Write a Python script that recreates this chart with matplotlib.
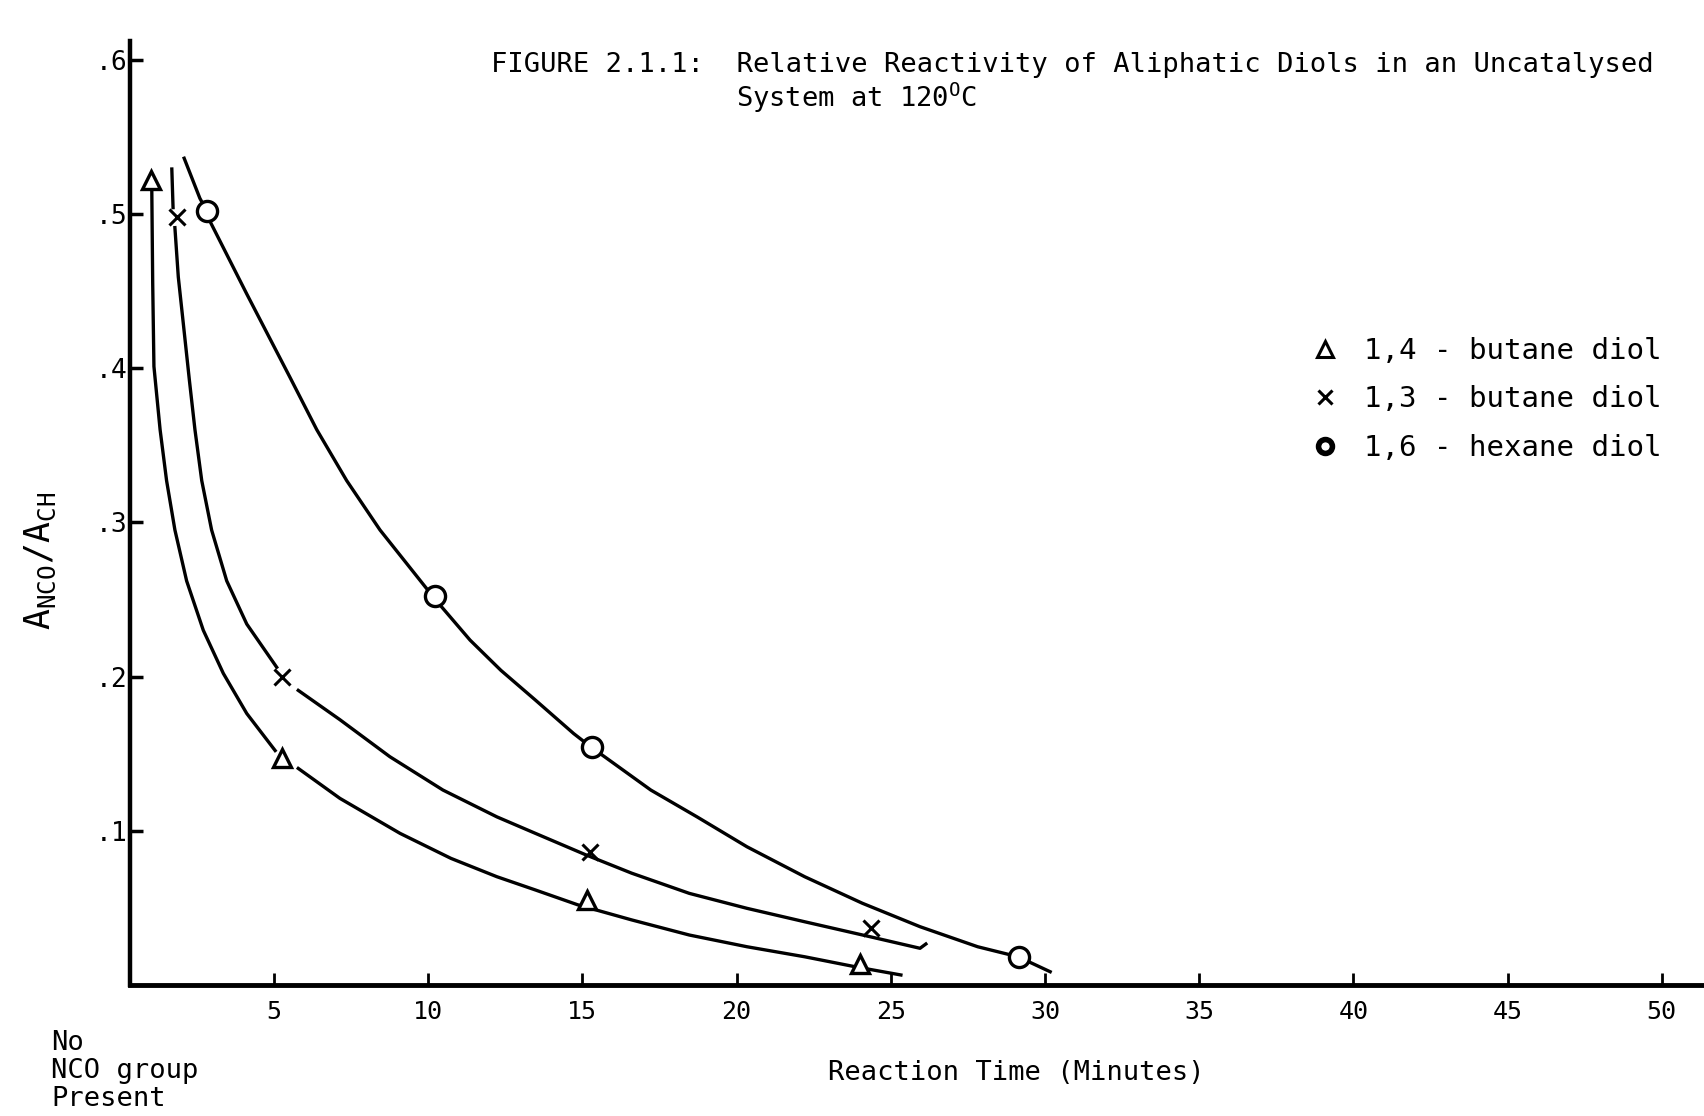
import numpy as np
import matplotlib
matplotlib.use("Agg")
import matplotlib.pyplot as plt
from matplotlib.lines import Line2D

plt.rcParams['font.family'] = ['DejaVu Sans Mono', 'DejaVu Sans']
plt.rcParams['mathtext.fontset'] = 'custom'
plt.rcParams['mathtext.rm'] = 'DejaVu Sans Mono'

# Messpunkte
t_14 = [1.0, 5.25, 15.15, 24.0]
r_14 = [0.522, 0.147, 0.055, 0.0134]
t_13 = [1.85, 5.25, 15.25, 24.35]
r_13 = [0.498, 0.200, 0.086, 0.037]
t_16 = [2.82, 10.22, 15.3, 29.17]
r_16 = [0.502, 0.252, 0.154, 0.0183]

# Handgezeichnete Kurven (nan = Lücke)
c14_x = [1.04, 1.07, 1.11, 1.31, 1.52, 1.79, 2.17, 2.71, 3.36, 4.12, 5.04, np.nan,
         5.79, 7.14, 9.09, 10.74, 12.23, 13.48, 14.85, 16.6, 18.47, 20.34, 22.21, 23.83, 25.33]
c14_y = [0.517, 0.455, 0.401, 0.360, 0.327, 0.295, 0.262, 0.230, 0.202, 0.176, 0.152, np.nan,
         0.1404, 0.121, 0.0983, 0.0821, 0.0702, 0.0616, 0.052, 0.0422, 0.0324, 0.0248, 0.0183, 0.0119, 0.0065]
c13_x = [1.69, 1.73, np.nan, 1.79, 1.90, 2.04, 2.26, 2.44, 2.66, 2.98, 3.47, 4.12, 5.09, np.nan,
         5.79, 7.14, 8.76, 10.48, 12.23, 13.48, 15.1, 16.6, 18.47, 20.34, 22.21, 24.33, 25.95, 26.14]
c13_y = [0.529, 0.504, np.nan, 0.491, 0.459, 0.433, 0.392, 0.360, 0.327, 0.295, 0.262, 0.234, 0.206, np.nan,
         0.191, 0.172, 0.148, 0.1264, 0.109, 0.0983, 0.0845, 0.0725, 0.0594, 0.0497, 0.041, 0.0313, 0.0238, 0.0266]
c16_x = [2.09, 2.6, 2.82, 2.93, 4.12, 5.52, 6.39, 7.36, 8.44, 10.23, 11.36, 12.36,
         13.48, 14.72, 15.3, 15.72, 17.22, 18.72, 20.34, 22.21, 24.08, 25.95, 27.82, 29.13, 30.17]
c16_y = [0.536, 0.51, 0.502, 0.495, 0.448, 0.394, 0.360, 0.327, 0.295, 0.25, 0.2236, 0.204,
         0.1847, 0.163, 0.154, 0.148, 0.1264, 0.109, 0.0896, 0.0702, 0.053, 0.0378, 0.0248, 0.0183, 0.0086]

x_ticks = [5, 10, 15, 20, 25, 30, 35, 40, 45, 50]
y_ticks = [0.1, 0.2, 0.3, 0.4, 0.5, 0.6]
y_tick_labels = ['.1', '.2', '.3', '.4', '.5', '.6']
labels = ['1,4 - butane diol', '1,3 - butane diol', '1,6 - hexane diol']

fig = plt.figure(figsize=(17.04, 11.16), dpi=100)
ax = fig.add_axes([130 / 1704, 1 - 985 / 1116, 1 - 130 / 1704, (985 - 41) / 1116])

lw = 2.4
ax.plot(c14_x, c14_y, color='black', lw=lw, zorder=2)
ax.plot(c13_x, c13_y, color='black', lw=lw, zorder=2)
ax.plot(c16_x, c16_y, color='black', lw=lw, zorder=2)

ax.plot(t_14, r_14, ls='none', marker='^', ms=13, mfc='white', mec='black', mew=2.4, zorder=3)
ax.plot(t_13, r_13, ls='none', marker='x', ms=11, mec='black', mew=2.2, zorder=3)
ax.plot(t_16, r_16, ls='none', marker='o', ms=14.5, mfc='white', mec='black', mew=2.4, zorder=3)

ax.set_xlim(0.334, 51.37)
ax.set_ylim(0, 0.612)
for s in ['top', 'right']:
    ax.spines[s].set_visible(False)
ax.spines['left'].set_linewidth(3.2)
ax.spines['bottom'].set_linewidth(3.5)

ax.set_xticks(x_ticks)
ax.set_xticklabels([str(v) for v in x_ticks])
ax.set_yticks(y_ticks)
ax.set_yticklabels(y_tick_labels)
ax.tick_params(axis='x', direction='in', length=9, width=2, labelsize=18, pad=11)
ax.tick_params(axis='y', direction='in', length=9, width=2.5, labelsize=19, pad=2)

ax.set_xlabel('Reaction Time (Minutes)', fontsize=19.5)
ax.xaxis.set_label_coords(0.563, -0.079)
ax.set_ylabel(r'$\mathregular{A_{NCO}/A_{CH}}$', fontsize=25)
ax.yaxis.set_label_coords(-0.046, 0.449)

fig.text(491 / 1704, 1 - 65 / 1116, 'FIGURE 2.1.1:  Relative Reactivity of Aliphatic Diols in an Uncatalysed',
         fontsize=19.5, va='center', ha='left')
fig.text(736 / 1704, 1 - 98 / 1116, r'System at 120$^{\mathregular{O}}$C',
         fontsize=19.5, va='center', ha='left')
fig.text(51 / 1704, 1 - 1071 / 1116, 'No\nNCO group\nPresent', fontsize=19.5,
         va='center', ha='left', linespacing=1.12)

handles = [
    Line2D([], [], ls='none', marker='^', ms=12, mfc='white', mec='black', mew=2.2),
    Line2D([], [], ls='none', marker='x', ms=10, mec='black', mew=2.2),
    Line2D([], [], ls='none', marker='o', ms=10, mfc='white', mec='black', mew=4),
]
ax.legend(handles, labels, loc='upper left', bbox_to_anchor=(1310 / 1704, 1 - 337 / 1116),
          bbox_transform=fig.transFigure, frameon=False, fontsize=21, handlelength=1.0,
          handletextpad=0.84, labelspacing=0.7, borderpad=0, borderaxespad=0)

fig.savefig('out.png', dpi=100)
